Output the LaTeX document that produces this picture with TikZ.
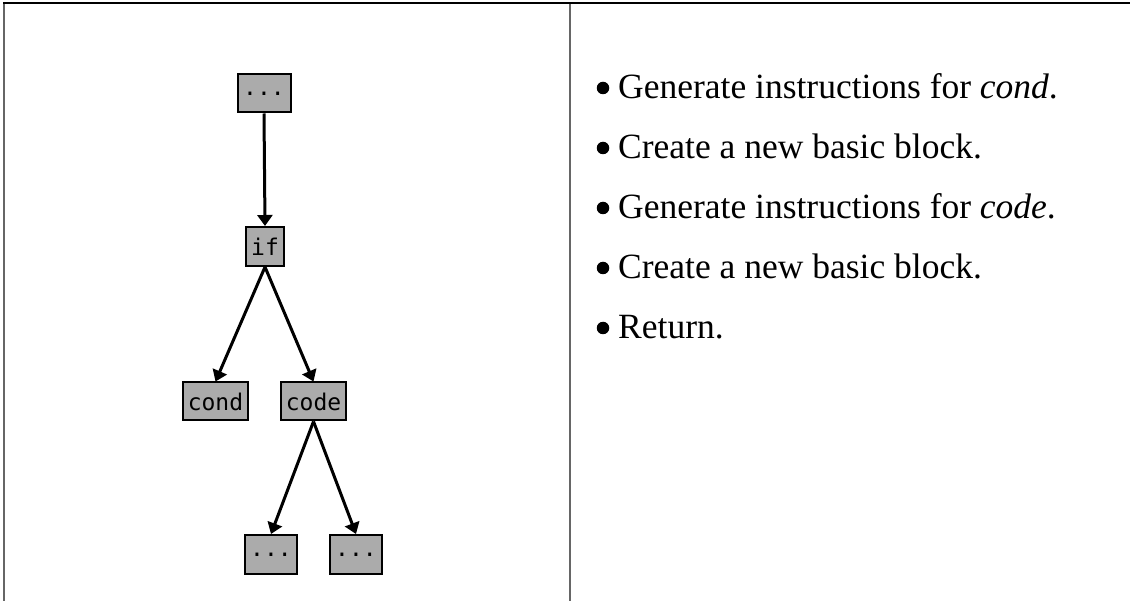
\documentclass[tikz,border=0pt]{standalone}
\usepackage{fontspec}
\setmainfont{Liberation Serif}
\newfontfamily\boxfont{DejaVu Sans Mono}
\usetikzlibrary{arrows.meta}
\begin{document}
\begin{tikzpicture}[x=1pt,y=-1pt,
  astnode/.style={draw=black, line width=2pt, fill=black!33, inner sep=0pt,
    font=\boxfont\fontsize{23}{23}\selectfont, anchor=center},
  link/.style={line width=3pt, -{Triangle[width=15pt,length=11pt]}},
  rule/.style={line width=2pt},
  dot/.style={circle, fill=black, inner sep=0pt, minimum size=12.5pt},
  item/.style={anchor=base west, inner sep=0pt, font=\fontsize{35.5}{40}\selectfont}]
\useasboundingbox (0,0) rectangle (1130,601);
% frame of the two columns
\draw[rule, black!60] (4,3) -- (4,601);
\draw[rule, black!60] (570,3) -- (570,601);
\draw[rule] (3,3) -- (1130,3);
% syntax tree
\node[astnode, minimum width=53pt, minimum height=38pt] (top) at (264,93.5) {...};
\node[astnode, minimum width=38pt, minimum height=39pt] (if) at (265,246.5) {if};
\node[astnode, minimum width=65pt, minimum height=38pt] (cond) at (215.5,401.5) {cond};
\node[astnode, minimum width=65pt, minimum height=38pt] (code) at (313.5,401.5) {code};
\node[astnode, minimum width=52pt, minimum height=39pt] (left) at (271,554.5) {...};
\node[astnode, minimum width=52pt, minimum height=39pt] (right) at (356,554.5) {...};
\draw[link] (top.south) -- (if.north);
\draw[link] (if.south) -- (cond.north);
\draw[link] (if.south) -- (code.north);
\draw[link] (code.south) -- (left.north);
\draw[link] (code.south) -- (right.north);
% steps
\node[dot] (b1) at (603,88) {};
\node[item] (t1) at (618,99) {Generate instructions for \textit{cond}.};
\node[dot] (b2) at (603,148) {};
\node[item] (t2) at (618,159) {Create a new basic block.};
\node[dot] (b3) at (603,208) {};
\node[item] (t3) at (618,219) {Generate instructions for \textit{code}.};
\node[dot] (b4) at (603,268) {};
\node[item] (t4) at (618,279) {Create a new basic block.};
\node[dot] (b5) at (603,328) {};
\node[item] (t5) at (618,339) {Return.};
\end{tikzpicture}
\end{document}
